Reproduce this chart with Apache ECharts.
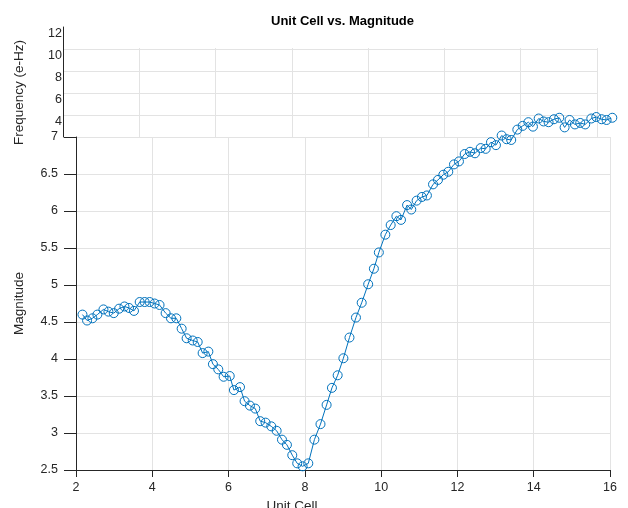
<!DOCTYPE html>
<html>
<head>
<meta charset="utf-8">
<title>Unit Cell vs. Magnitude</title>
<script src="https://cdn.jsdelivr.net/npm/echarts@6/dist/echarts.min.js"></script>
<style>
  html, body { margin: 0; padding: 0; background: #ffffff; }
  #chart { width: 628px; height: 508px; }
</style>
</head>
<body>
<div id="chart"></div>
<script>
// Unit cell position of each sample (x)
const unitCell = [
  2.17, 2.29, 2.43, 2.56, 2.72, 2.85, 2.99, 3.13, 3.27, 3.39,
  3.52, 3.67, 3.80, 3.93, 4.06, 4.19, 4.35, 4.49, 4.63, 4.77,
  4.90, 5.06, 5.19, 5.32, 5.47, 5.59, 5.73, 5.87, 6.03, 6.14,
  6.30, 6.42, 6.56, 6.70, 6.83, 6.97, 7.12, 7.26, 7.40, 7.53,
  7.67, 7.80, 7.94, 8.09, 8.25, 8.41, 8.57, 8.71, 8.86, 9.01,
  9.17, 9.34, 9.49, 9.66, 9.81, 9.94, 10.11, 10.25, 10.40, 10.52,
  10.68, 10.79, 10.93, 11.07, 11.20, 11.36, 11.49, 11.63, 11.76, 11.91,
  12.04, 12.19, 12.33, 12.46, 12.61, 12.74, 12.88, 13.01, 13.16, 13.29,
  13.41, 13.57, 13.71, 13.86, 13.98, 14.13, 14.26, 14.39, 14.53, 14.67,
  14.81, 14.94, 15.08, 15.22, 15.35, 15.51, 15.64, 15.78, 15.91, 16.06
]

// Magnitude of each sample (y)
const magnitude = [
  4.60, 4.52, 4.55, 4.60, 4.67, 4.64, 4.62, 4.68, 4.71, 4.69,
  4.65, 4.77, 4.77, 4.77, 4.75, 4.73, 4.62, 4.55, 4.55, 4.41,
  4.28, 4.25, 4.23, 4.08, 4.10, 3.93, 3.86, 3.76, 3.77, 3.58,
  3.62, 3.43, 3.37, 3.33, 3.16, 3.14, 3.09, 3.03, 2.91, 2.84,
  2.70, 2.59, 2.55, 2.59, 2.91, 3.12, 3.38, 3.61, 3.78, 4.01,
  4.29, 4.56, 4.76, 5.01, 5.22, 5.44, 5.68, 5.81, 5.93, 5.88,
  6.08, 6.02, 6.14, 6.19, 6.21, 6.36, 6.42, 6.49, 6.53, 6.63,
  6.67, 6.77, 6.80, 6.78, 6.85, 6.84, 6.93, 6.89, 7.02, 6.97,
  6.96, 7.10, 7.15, 7.20, 7.14, 7.25, 7.21, 7.20, 7.24, 7.26,
  7.13, 7.23, 7.17, 7.19, 7.17, 7.25, 7.27, 7.24, 7.23, 7.26
]

// Tick values of the three axes
const unitCellTicks = [2, 4, 6, 8, 10, 12, 14, 16]
const magnitudeTicks = [2.5, 3, 3.5, 4, 4.5, 5, 5.5, 6, 6.5, 7]
const frequencyTicks = [2, 4, 6, 8, 10, 12]

const FONT = "'Liberation Sans', Arial, Helvetica, sans-serif"
const textColor = "#262626"
const gridColor = "#e3e3e3"
const lineColor = "#0072BD"

const step = (t) => t[1] - t[0]
const last = (t) => t[t.length - 1]

const chart = echarts.init(document.getElementById("chart"))

chart.setOption({
  backgroundColor: "#ffffff",
  animation: false,
  textStyle: { fontFamily: FONT },

  title: {
    text: "Unit Cell vs. Magnitude",
    left: 266,
    top: 10,
    textStyle: { fontFamily: FONT, fontSize: 13, fontWeight: "bold", color: "#000000" }
  },

  grid: [
    // floor: unit cell x magnitude
    { left: 76, right: 18, top: 137, height: 333, outerBoundsMode: "none" },
    // frequency axis
    { left: 63, right: 31, top: 27, height: 110, outerBoundsMode: "none" },
    // back wall verticals
    { left: 63, right: 31, top: 48, height: 89, outerBoundsMode: "none" }
  ],

  xAxis: [
    {
      gridIndex: 0,
      type: "value",
      min: unitCellTicks[0],
      max: last(unitCellTicks),
      interval: step(unitCellTicks),
      name: "Unit Cell",
      nameLocation: "middle",
      nameGap: 27,
      nameTextStyle: { fontSize: 13.5, color: textColor, padding: [0, 102, 0, 0] },
      axisLine: { lineStyle: { color: textColor, width: 1 }},
      axisTick: { inside: false, length: 7, lineStyle: { color: textColor }},
      axisLabel: { fontSize: 12.5, color: textColor, margin: 11 },
      splitLine: { show: true, lineStyle: { color: gridColor, width: 1 }}
    },
    {
      gridIndex: 1,
      type: "value",
      min: unitCellTicks[0],
      max: last(unitCellTicks),
      show: false
    },
    {
      gridIndex: 2,
      type: "value",
      min: unitCellTicks[0],
      max: last(unitCellTicks),
      interval: step(unitCellTicks),
      axisLine: { show: false },
      axisTick: { show: false },
      axisLabel: { show: false },
      splitLine: { show: true, lineStyle: { color: gridColor, width: 1 }}
    }
  ],

  yAxis: [
    {
      gridIndex: 0,
      type: "value",
      min: magnitudeTicks[0],
      max: last(magnitudeTicks),
      interval: step(magnitudeTicks),
      name: "Magnitude",
      nameLocation: "middle",
      nameGap: 50,
      nameTextStyle: { fontSize: 13.5, color: textColor },
      axisLine: { show: true, lineStyle: { color: textColor, width: 1 }},
      axisTick: { show: true, inside: false, length: 12, lineStyle: { color: textColor }},
      axisLabel: { fontSize: 12.5, color: textColor, margin: 18 },
      splitLine: { show: true, lineStyle: { color: gridColor, width: 1 }}
    },
    {
      gridIndex: 1,
      type: "value",
      min: frequencyTicks[0],
      max: last(frequencyTicks),
      interval: step(frequencyTicks),
      axisLine: { show: true, lineStyle: { color: textColor, width: 1 }},
      axisTick: { show: false },
      axisLabel: {
        fontSize: 12.5,
        color: textColor,
        margin: 1,
        verticalAlign: "top",
        formatter: (v) => (v === frequencyTicks[0] ? "" : String(v))
      },
      splitLine: {
        show: true,
        showMinLine: false,
        showMaxLine: false,
        lineStyle: { color: gridColor, width: 1 }
      }
    },
    {
      gridIndex: 2,
      type: "value",
      min: frequencyTicks[0],
      max: 10,
      name: "Frequency (e-Hz)",
      nameLocation: "middle",
      nameGap: 37,
      nameTextStyle: { fontSize: 13.5, color: textColor },
      axisLine: { show: false },
      axisTick: { show: false },
      axisLabel: { show: false },
      splitLine: { show: false }
    }
  ],

  series: [
    {
      type: "line",
      xAxisIndex: 0,
      yAxisIndex: 0,
      clip: false,
      data: unitCell.map((x, i) => [x, magnitude[i]]),
      symbol: "circle",
      symbolSize: 9,
      lineStyle: { color: lineColor, width: 1 },
      itemStyle: { color: "rgba(0,0,0,0)", borderColor: lineColor, borderWidth: 1 },
      emphasis: { disabled: true }
    }
  ]
})
</script>
</body>
</html>
